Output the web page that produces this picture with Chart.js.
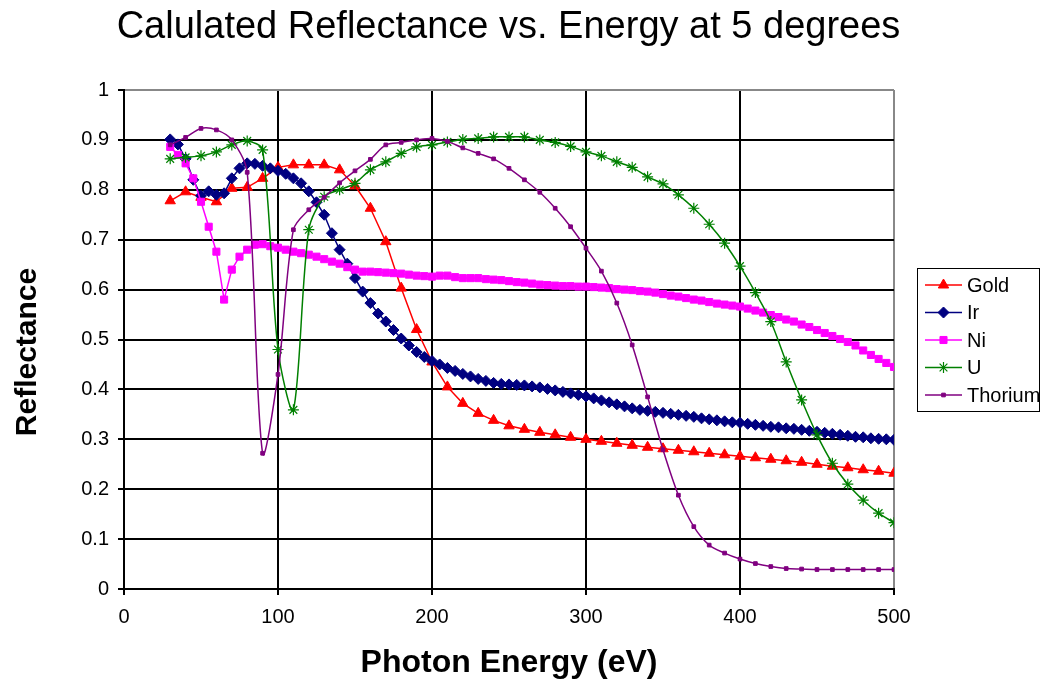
<!DOCTYPE html>
<html>
<head>
<meta charset="utf-8">
<script src="https://cdn.jsdelivr.net/npm/chart.js@4/dist/chart.umd.min.js"></script>
<style>
  html, body { margin: 0; padding: 0; background: #ffffff; }
  #c { display: block; }
</style>
</head>
<body>
<canvas id="c" width="1041" height="685" style="width:1041px;height:685px"></canvas>
<script>
// ---------------- DATA ----------------
const chartTitle = 'Calulated Reflectance vs. Energy at 5 degrees';
const xAxisTitle = 'Photon Energy (eV)';
const yAxisTitle = 'Reflectance';
const seriesNames = ['Gold', 'Ir', 'Ni', 'U', 'Thorium'];
const xTickLabels = ['0', '100', '200', '300', '400', '500'];
const yTickLabels = ['0', '0.1', '0.2', '0.3', '0.4', '0.5', '0.6', '0.7', '0.8', '0.9', '1'];

// photon energy, 10 eV sampling (Gold, U, Thorium)
const energy10 = [30, 40, 50, 60, 70, 80, 90, 100, 110, 120, 130, 140, 150, 160, 170, 180, 190, 200,
  210, 220, 230, 240, 250, 260, 270, 280, 290, 300, 310, 320, 330, 340, 350, 360, 370, 380, 390, 400,
  410, 420, 430, 440, 450, 460, 470, 480, 490, 500];

// photon energy, 5 eV sampling (Ir, Ni)
const energy5 = [30, 35, 40, 45, 50, 55, 60, 65, 70, 75, 80, 85, 90, 95, 100, 105, 110, 115, 120, 125,
  130, 135, 140, 145, 150, 155, 160, 165, 170, 175, 180, 185, 190, 195, 200, 205, 210, 215, 220, 225,
  230, 235, 240, 245, 250, 255, 260, 265, 270, 275, 280, 285, 290, 295, 300, 305, 310, 315, 320, 325,
  330, 335, 340, 345, 350, 355, 360, 365, 370, 375, 380, 385, 390, 395, 400, 405, 410, 415, 420, 425,
  430, 435, 440, 445, 450, 455, 460, 465, 470, 475, 480, 485, 490, 495, 500];

const gold = [0.778, 0.796, 0.785, 0.776, 0.803, 0.805, 0.823, 0.845, 0.850, 0.850, 0.850, 0.840,
  0.808, 0.763, 0.696, 0.603, 0.520, 0.455, 0.405, 0.372, 0.352, 0.338, 0.327, 0.320, 0.314, 0.309,
  0.304, 0.300, 0.296, 0.292, 0.288, 0.284, 0.281, 0.278, 0.275, 0.272, 0.269, 0.266, 0.263, 0.260,
  0.257, 0.254, 0.250, 0.246, 0.243, 0.239, 0.236, 0.232];

const ir = [0.901, 0.891, 0.862, 0.820, 0.788, 0.797, 0.790, 0.793, 0.823, 0.843, 0.853, 0.852,
  0.848, 0.843, 0.838, 0.832, 0.823, 0.813, 0.797, 0.775, 0.750, 0.713, 0.680, 0.652, 0.623, 0.596,
  0.573, 0.552, 0.536, 0.519, 0.502, 0.488, 0.475, 0.465, 0.457, 0.450, 0.443, 0.437, 0.431, 0.426,
  0.421, 0.417, 0.413, 0.411, 0.410, 0.409, 0.408, 0.406, 0.404, 0.401, 0.398, 0.395, 0.392, 0.389,
  0.386, 0.382, 0.378, 0.374, 0.370, 0.366, 0.362, 0.359, 0.357, 0.355, 0.353, 0.351, 0.349, 0.347,
  0.345, 0.342, 0.340, 0.338, 0.336, 0.334, 0.333, 0.331, 0.329, 0.327, 0.325, 0.324, 0.322, 0.321,
  0.319, 0.317, 0.315, 0.313, 0.311, 0.309, 0.307, 0.305, 0.304, 0.302, 0.301, 0.300, 0.299];

const ni = [0.886, 0.870, 0.853, 0.823, 0.776, 0.726, 0.676, 0.580, 0.640, 0.666, 0.680, 0.690,
  0.691, 0.687, 0.684, 0.680, 0.676, 0.673, 0.670, 0.666, 0.661, 0.656, 0.652, 0.645, 0.640, 0.636,
  0.636, 0.635, 0.634, 0.633, 0.632, 0.630, 0.628, 0.627, 0.626, 0.628, 0.628, 0.625, 0.623, 0.623,
  0.623, 0.621, 0.620, 0.619, 0.617, 0.615, 0.614, 0.612, 0.610, 0.609, 0.608, 0.607, 0.607, 0.606,
  0.606, 0.605, 0.604, 0.603, 0.601, 0.600, 0.599, 0.597, 0.596, 0.594, 0.591, 0.588, 0.586, 0.583,
  0.580, 0.578, 0.575, 0.572, 0.570, 0.568, 0.566, 0.562, 0.558, 0.554, 0.549, 0.545, 0.540, 0.536,
  0.530, 0.525, 0.519, 0.513, 0.507, 0.501, 0.495, 0.488, 0.478, 0.469, 0.461, 0.453, 0.445];

const uranium = [0.862, 0.865, 0.868, 0.876, 0.890, 0.898, 0.880, 0.480, 0.359, 0.720, 0.786, 0.800,
  0.813, 0.840, 0.856, 0.873, 0.886, 0.890, 0.896, 0.901, 0.903, 0.906, 0.906, 0.906, 0.900, 0.895,
  0.887, 0.876, 0.868, 0.856, 0.845, 0.826, 0.812, 0.790, 0.763, 0.731, 0.693, 0.647, 0.594, 0.536,
  0.455, 0.379, 0.309, 0.252, 0.210, 0.178, 0.152, 0.133];

const thorium = [0.890, 0.905, 0.923, 0.920, 0.900, 0.835, 0.272, 0.430, 0.720, 0.760, 0.785, 0.814,
  0.838, 0.861, 0.890, 0.895, 0.900, 0.903, 0.897, 0.884, 0.873, 0.862, 0.843, 0.820, 0.795, 0.763,
  0.726, 0.683, 0.637, 0.573, 0.489, 0.385, 0.279, 0.188, 0.125, 0.088, 0.072, 0.060, 0.051, 0.045,
  0.041, 0.040, 0.039, 0.039, 0.039, 0.039, 0.039, 0.039];

// ---------------- CHART ----------------
const FONT = "'Liberation Sans', Arial, Helvetica, sans-serif";
Chart.defaults.font.family = FONT;
Chart.defaults.color = '#000000';

function pts(xs, ys) { return xs.map((x, i) => ({ x: x, y: ys[i] })); }

const datasets = [
  { label: seriesNames[0], data: pts(energy10, gold), borderColor: '#FF0000', backgroundColor: '#FF0000',
    pointStyle: 'triangle', pointRadius: 6, borderWidth: 1.5, pointBorderWidth: 1, tension: 0, order: 5 },
  { label: seriesNames[1], data: pts(energy5, ir), borderColor: '#000080', backgroundColor: '#000080',
    pointStyle: 'rectRot', pointRadius: 5.5, borderWidth: 1.5, pointBorderWidth: 1, tension: 0, order: 4 },
  { label: seriesNames[2], data: pts(energy5, ni), borderColor: '#FF00FF', backgroundColor: '#FF00FF',
    pointStyle: 'rect', pointRadius: 5, borderWidth: 1.5, pointBorderWidth: 1, tension: 0, order: 3 },
  { label: seriesNames[3], data: pts(energy10, uranium), borderColor: '#008000', backgroundColor: '#008000',
    pointStyle: 'star', pointRadius: 5.5, borderWidth: 1.5, pointBorderWidth: 1.2, tension: 0.3, order: 2 },
  { label: seriesNames[4], data: pts(energy10, thorium), borderColor: '#800080', backgroundColor: '#800080',
    pointStyle: 'rect', pointRadius: 2.6, borderWidth: 1.5, pointBorderWidth: 1, tension: 0.3, order: 1 }
];

// Side legend as a layout box on the right
const LEGEND_W = 123;
function drawSideLegend(chart, box) {
  const ctx = chart.ctx;
  const ca = chart.chartArea;
  const cy = (ca.top + ca.bottom) / 2;
  const bx = box.left + 23, bw = 123, bh = 144;
  const by = cy - bh / 2;
  ctx.save();
  ctx.strokeStyle = '#000000';
  ctx.lineWidth = 1;
  ctx.strokeRect(Math.round(bx) + 0.5, Math.round(by) + 0.5, bw - 1, bh - 1);
  const step = 27.5;
  const y0 = by + 17.5;
  chart.data.datasets.forEach((ds, i) => {
    const y = y0 + i * step;
    ctx.strokeStyle = ds.borderColor;
    ctx.lineWidth = ds.borderWidth;
    ctx.beginPath();
    ctx.moveTo(bx + 8, y);
    ctx.lineTo(bx + 45, y);
    ctx.stroke();
    ctx.fillStyle = ds.backgroundColor;
    ctx.strokeStyle = ds.borderColor;
    ctx.lineWidth = ds.pointBorderWidth;
    Chart.helpers.drawPoint(ctx, { pointStyle: ds.pointStyle, radius: ds.pointRadius, rotation: 0, borderWidth: ds.pointBorderWidth }, bx + 26.5, y);
    ctx.fillStyle = '#000000';
    ctx.font = '20px ' + FONT;
    ctx.textAlign = 'left';
    ctx.textBaseline = 'middle';
    ctx.fillText(ds.label, bx + 50, y + 1);
  });
  ctx.restore();
}

const sideLegendPlugin = {
  id: 'sideLegend',
  beforeInit(chart) {
    const box = {
      position: 'right', weight: 1000, fullSize: false,
      options: { stackWeight: 1 },
      left: 0, top: 0, right: 0, bottom: 0, width: 0, height: 0,
      isHorizontal() { return false; },
      update(maxWidth, maxHeight) { this.width = LEGEND_W; this.height = maxHeight; },
      draw() { drawSideLegend(chart, this); }
    };
    Chart.layouts.addBox(chart, box);
  }
};

const tickFont = { family: FONT, size: 20 };

new Chart(document.getElementById('c'), {
  type: 'line',
  data: { datasets: datasets },
  plugins: [sideLegendPlugin],
  options: {
    responsive: false,
    animation: false,
    devicePixelRatio: 1,
    layout: { padding: { left: 0, right: 24, top: 0, bottom: 0 } },
    plugins: {
      legend: { display: false },
      tooltip: { enabled: false },
      title: {
        display: true, text: chartTitle, color: '#000000',
        font: { family: FONT, size: 38, weight: 'normal' },
        padding: { top: 5, bottom: 39.4 }
      }
    },
    scales: {
      x: {
        type: 'linear', min: 0, max: 500,
        ticks: { stepSize: 100, font: tickFont, color: '#000000', padding: 10, maxRotation: 0,
          callback: (v, i) => xTickLabels[i] },
        grid: { color: (c) => (c.tick && c.tick.value === 500 ? '#888888' : '#000000'),
          lineWidth: 2, tickLength: 6, tickColor: '#000000' },
        border: { color: '#000000', width: 2 },
        title: { display: true, text: xAxisTitle, font: { family: FONT, size: 32, weight: 'bold' },
          color: '#000000', padding: { top: 0, bottom: 3 } },
        afterFit(s) { s.height = 96; }
      },
      y: {
        min: 0, max: 1,
        ticks: { stepSize: 0.1, font: tickFont, color: '#000000', padding: 9,
          callback: (v, i) => yTickLabels[i] },
        grid: { color: (c) => (c.tick && c.tick.value === 1 ? '#888888' : '#000000'),
          lineWidth: 2, tickLength: 6, tickColor: '#000000' },
        border: { color: '#000000', width: 2 },
        title: { display: true, text: yAxisTitle + '   ', font: { family: FONT, size: 30, weight: 'bold' },
          color: '#000000', padding: { top: 10, bottom: 0 } },
        afterFit(s) { s.width = 124; }
      }
    }
  }
});
</script>
</body>
</html>
